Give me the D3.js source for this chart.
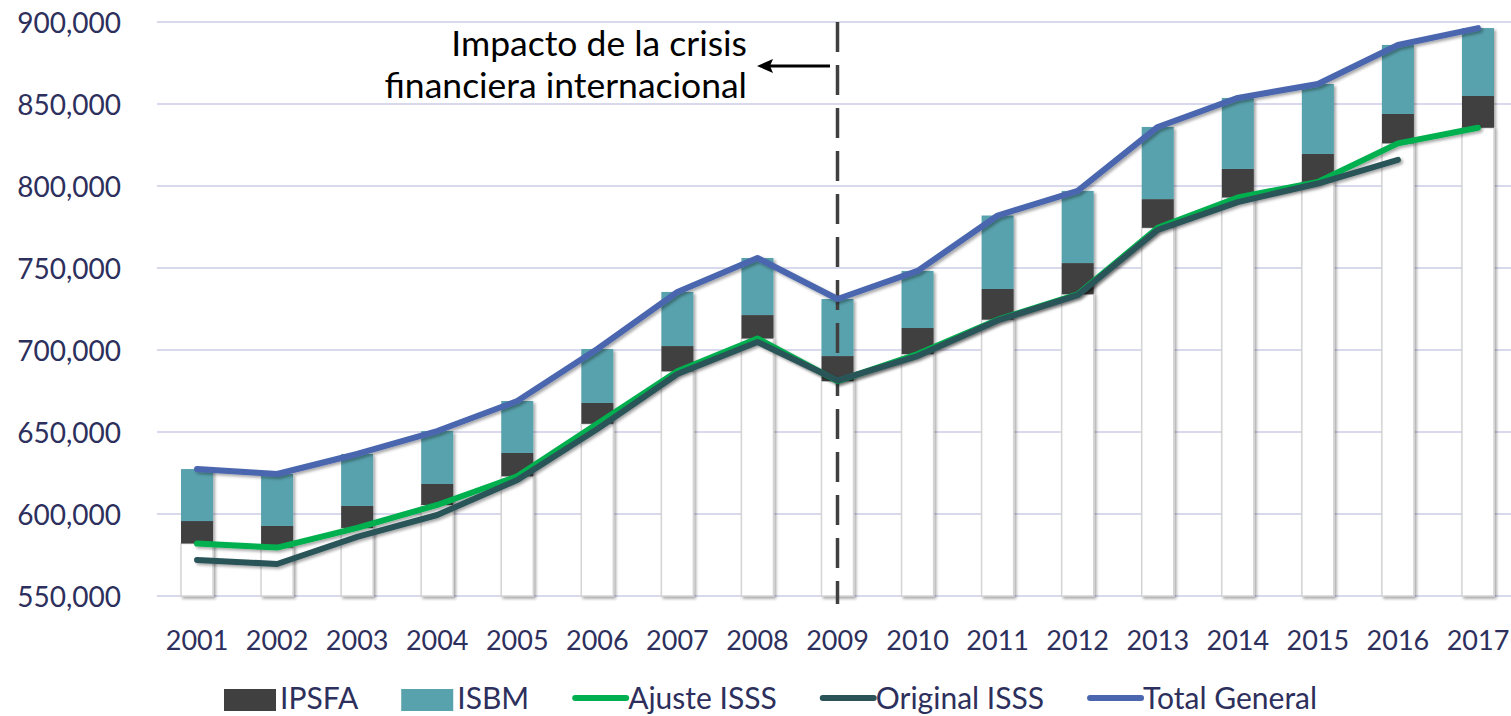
<!DOCTYPE html>
<html>
<head>
<meta charset="utf-8">
<script src="https://cdn.jsdelivr.net/npm/d3@7"></script>
<style>
  body { margin: 0; background: #fff; }
  svg text { font-family: Lato, "Open Sans", sans-serif; }
</style>
</head>
<body>
<div id="chart"></div>
<script>
// data
var years = ["2001","2002","2003","2004","2005","2006","2007","2008","2009",
             "2010","2011","2012","2013","2014","2015","2016","2017"];
var ajusteISSS = [582000, 579500, 591500, 605500, 623000, 655000, 687000, 707000, 681000,
                  697500, 718500, 734000, 774500, 793000, 802500, 826000, 835500];
var ipsfa = [13700, 13200, 13400, 12800, 14200, 12700, 15400, 14300, 15300,
             15900, 18700, 19000, 17500, 17400, 17000, 17900, 19400];
var isbm = [31700, 31700, 31700, 32300, 31700, 32900, 33000, 34800, 34800,
            34800, 44800, 44000, 44000, 43300, 42700, 42100, 41400];
var originalISSS = [572000, 569500, 586000, 599400, 620700, 651800, 685400, 704900, 681500,
                    696300, 718000, 733500, 773200, 790200, 801500, 815900, null];
var totalGeneral = [627400, 624400, 636600, 650600, 668900, 700600, 735400, 756100, 731100,
                    748200, 782000, 797000, 836000, 853700, 862200, 886000, 896300];
var yTicks = [550000, 600000, 650000, 700000, 750000, 800000, 850000, 900000];
var crisisYear = "2009";
var noteLines = ["Impacto de la crisis", "financiera internacional"];
var legendItems = [
  {name: "IPSFA", type: "rect", color: "#404040"},
  {name: "ISBM", type: "rect", color: "#58a2ad"},
  {name: "Ajuste ISSS", type: "line", color: "#00b050"},
  {name: "Original ISSS", type: "line", color: "#2b5459"},
  {name: "Total General", type: "line", color: "#4a66ae"}
];

var W = 1511, H = 716;
var plotLeft = 157, plotRight = 1518, plotTop = 22, plotBottom = 596;

var svg = d3.select("#chart").append("svg")
    .attr("width", W)
    .attr("height", H);

var defs = svg.append("defs");
var f = defs.append("filter").attr("id", "shadow")
    .attr("x", "-20%").attr("y", "-20%").attr("width", "140%").attr("height", "140%");
f.append("feDropShadow").attr("dx", 2).attr("dy", 2)
    .attr("stdDeviation", 1.8).attr("flood-color", "#000").attr("flood-opacity", 0.35);

var x = d3.scaleBand().domain(years).range([plotLeft, plotRight]).paddingInner(0.6).paddingOuter(0.3);
var y = d3.scaleLinear().domain([550000, 900000]).range([plotBottom, plotTop]);

// gridlines
svg.append("g").selectAll("line")
  .data(yTicks)
  .enter().append("line")
    .attr("x1", plotLeft).attr("x2", W)
    .attr("y1", d => y(d)).attr("y2", d => y(d))
    .attr("stroke", "#d9d9ee").attr("stroke-width", 2);

// y axis labels
var yAxis = d3.axisLeft(y).tickValues(yTicks).tickSize(0).tickPadding(0)
    .tickFormat(d3.format(","));
var gy = svg.append("g").attr("transform", "translate(121,0)").call(yAxis);
gy.select(".domain").remove();
gy.selectAll("text")
    .attr("fill", "#2d2f5c")
    .style("font-size", "28px")
    .attr("dy", "0.38em");

// x axis labels
var xAxis = d3.axisBottom(x).tickSize(0).tickPadding(0);
var gx = svg.append("g").attr("transform", "translate(0,650)").call(xAxis);
gx.select(".domain").remove();
gx.selectAll("text")
    .attr("fill", "#2d2f5c")
    .style("font-size", "27px")
    .attr("dy", 0);

// stacked bars
var rows = years.map((yr, i) => ({year: yr, base: ajusteISSS[i], ipsfa: ipsfa[i], isbm: isbm[i]}));
var bars = svg.append("g").attr("filter", "url(#shadow)");

bars.selectAll("rect.base")
  .data(rows)
  .enter().append("rect")
    .attr("class", "base")
    .attr("x", d => x(d.year))
    .attr("width", x.bandwidth())
    .attr("y", d => y(d.base))
    .attr("height", d => y(550000) - y(d.base))
    .attr("fill", "#fff")
    .attr("stroke", "#d4d4d4")
    .attr("stroke-width", 1.5);

bars.selectAll("rect.ipsfa")
  .data(rows)
  .enter().append("rect")
    .attr("class", "ipsfa")
    .attr("x", d => x(d.year))
    .attr("width", x.bandwidth())
    .attr("y", d => y(d.base + d.ipsfa))
    .attr("height", d => y(d.base) - y(d.base + d.ipsfa))
    .attr("fill", "#404040");

bars.selectAll("rect.isbm")
  .data(rows)
  .enter().append("rect")
    .attr("class", "isbm")
    .attr("x", d => x(d.year))
    .attr("width", x.bandwidth())
    .attr("y", d => y(d.base + d.ipsfa + d.isbm))
    .attr("height", d => y(d.base + d.ipsfa) - y(d.base + d.ipsfa + d.isbm))
    .attr("fill", "#58a2ad");

// dashed crisis line
var cx = x(crisisYear) + x.bandwidth() / 2;
svg.append("line")
    .attr("x1", cx).attr("x2", cx)
    .attr("y1", y(900000)).attr("y2", 604)
    .attr("stroke", "#404040").attr("stroke-width", 3.5)
    .attr("stroke-dasharray", "30,13");

// lines
var line = d3.line()
    .defined(d => d.v != null)
    .x(d => x(d.year) + x.bandwidth() / 2)
    .y(d => y(d.v));

function addLine(values, color) {
  var pts = years.map((yr, i) => ({year: yr, v: values[i]}));
  svg.append("path")
      .datum(pts)
      .attr("d", line)
      .attr("fill", "none")
      .attr("stroke", color)
      .attr("stroke-width", 6)
      .attr("stroke-linecap", "round")
      .attr("stroke-linejoin", "round")
      .attr("filter", "url(#shadow)");
}
addLine(ajusteISSS, "#00b050");
addLine(originalISSS, "#2b5459");
addLine(totalGeneral, "#4a66ae");

// annotation
var note = svg.append("g");
note.selectAll("text")
  .data(noteLines)
  .enter().append("text")
    .attr("x", 747)
    .attr("y", (d, i) => 56 + i * 42)
    .attr("text-anchor", "end")
    .attr("fill", "#000")
    .style("font-size", "35.5px")
    .text(d => d);

svg.append("line")
    .attr("x1", 830).attr("x2", 770)
    .attr("y1", 66).attr("y2", 66)
    .attr("stroke", "#000").attr("stroke-width", 3);
svg.append("path")
    .attr("d", "M757,66 L773,59 L770,66 L773,73 Z")
    .attr("fill", "#000");

// legend
var lg = svg.append("g").attr("transform", "translate(224,0)");
var lx = 0;
legendItems.forEach(function(it) {
  var g = lg.append("g").attr("transform", "translate(" + lx + ",0)");
  if (it.type == "rect") {
    g.append("rect").attr("x", 0).attr("y", 689).attr("width", 52).attr("height", 22)
      .attr("fill", it.color);
  } else {
    g.append("line").attr("x1", 3).attr("x2", 54).attr("y1", 698).attr("y2", 698)
      .attr("stroke", it.color).attr("stroke-width", 6).attr("stroke-linecap", "round");
  }
  var t = g.append("text").attr("x", 56).attr("y", 709)
      .attr("fill", "#2d2f5c").style("font-size", "30px").text(it.name);
  lx += 56 + t.node().getComputedTextLength() + 43;
});
</script>
</body>
</html>
